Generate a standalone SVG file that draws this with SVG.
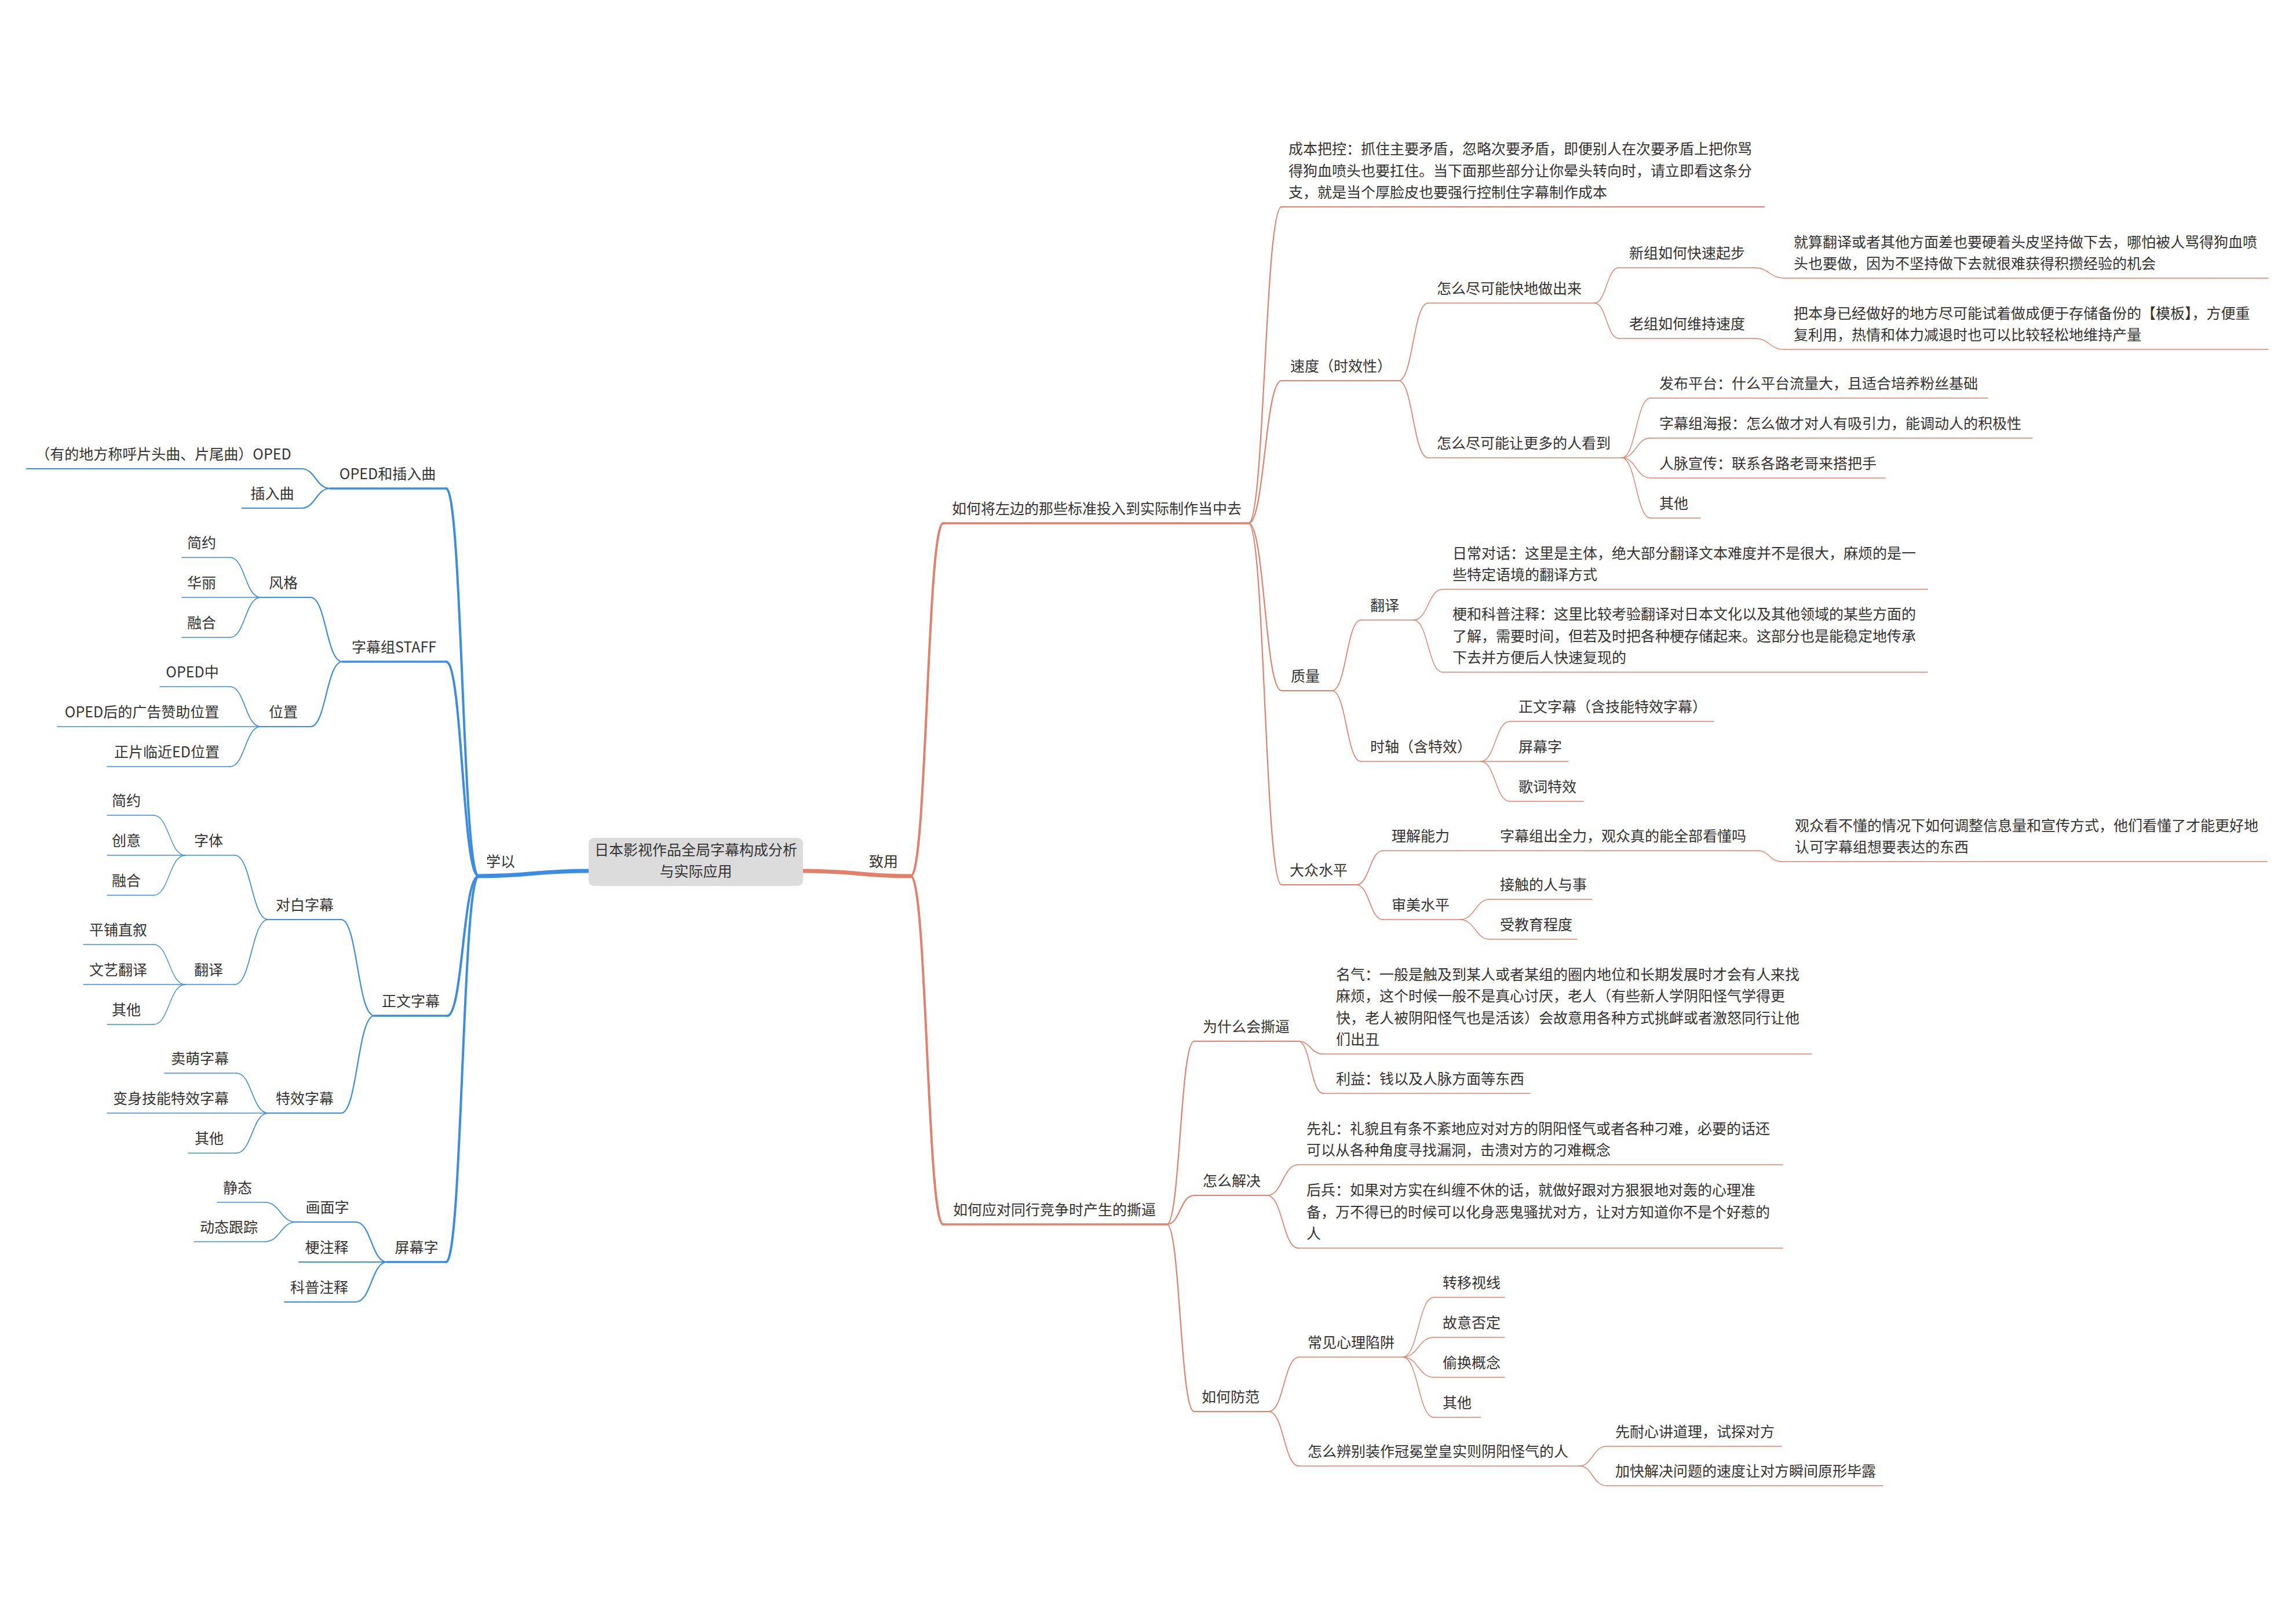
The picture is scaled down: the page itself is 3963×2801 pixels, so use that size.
<svg xmlns="http://www.w3.org/2000/svg" width="3963" height="2801" viewBox="0 0 3963 2801">
<style>
.bl{stroke:#3b8de3;fill:none;stroke-linecap:round}
.or{stroke:#e2806c;fill:none;stroke-linecap:round}
.w0{stroke-width:7}.w1{stroke-width:4}.w1u{stroke-width:3.5}.w2{stroke-width:2.2}.w3{stroke-width:1.7}.w4{stroke-width:1.4}
text{font-family:"Noto Sans CJK SC","Noto Sans",sans-serif;font-size:25px;fill:#333}
.m{text-anchor:middle}
</style>
<rect width="3963" height="2801" fill="#ffffff"/>
<g id="connectors">
<path class="bl w0" d="M1020 1503 C920 1503 920 1512 826 1512"/>
<path class="or w0" d="M1382 1503 C1480 1503 1480 1512 1572 1512"/>
<path class="bl w1" d="M826 1512 C798 1512 798 843 770 843"/>
<path class="bl w1" d="M826 1512 C798 1512 798 1142 770 1142"/>
<path class="bl w1" d="M826 1512 C799 1512 799 1753 772 1753"/>
<path class="bl w1" d="M826 1512 C798 1512 798 2178 770 2178"/>
<path class="bl w2" d="M570 843 C545 843 545 809 520 809"/>
<path class="bl w2" d="M570 843 C545 843 545 877 520 877"/>
<path class="bl w2" d="M591 1142 C563 1142 563 1031 536 1031"/>
<path class="bl w2" d="M591 1142 C563 1142 563 1254 536 1254"/>
<path class="bl w3" d="M450 1031 C423 1031 423 962 397 962"/>
<path class="bl w3" d="M450 1031 C423 1031 423 1100 397 1100"/>
<path class="bl w3" d="M450 1254 C423 1254 423 1185 397 1185"/>
<path class="bl w3" d="M450 1254 C423 1254 423 1323 397 1323"/>
<path class="bl w2" d="M646 1753 C617 1753 617 1587 589 1587"/>
<path class="bl w2" d="M646 1753 C617 1753 617 1921 589 1921"/>
<path class="bl w3" d="M463 1587 C434 1587 434 1476 405 1476"/>
<path class="bl w3" d="M463 1587 C434 1587 434 1699 405 1699"/>
<path class="bl w4" d="M320 1476 C292 1476 292 1407 265 1407"/>
<path class="bl w4" d="M320 1476 C292 1476 292 1545 265 1545"/>
<path class="bl w4" d="M320 1699 C292 1699 292 1630 265 1630"/>
<path class="bl w4" d="M320 1699 C292 1699 292 1768 265 1768"/>
<path class="bl w3" d="M463 1921 C435 1921 435 1852 408 1852"/>
<path class="bl w3" d="M463 1921 C435 1921 435 1990 408 1990"/>
<path class="bl w2" d="M668 2178 C641 2178 641 2109 614 2109"/>
<path class="bl w2" d="M668 2178 C641 2178 641 2247 614 2247"/>
<path class="bl w3" d="M511 2109 C484 2109 484 2075 457 2075"/>
<path class="bl w3" d="M511 2109 C484 2109 484 2143 457 2143"/>
<path class="or w1" d="M1572 1512 C1600 1512 1600 903 1628 903"/>
<path class="or w1" d="M1572 1512 C1600 1512 1600 2113 1628 2113"/>
<path class="or w2" d="M2155 903 C2183 903 2183 357 2212 357"/>
<path class="or w2" d="M2155 903 C2183 903 2183 657 2212 657"/>
<path class="or w2" d="M2155 903 C2183 903 2183 1192 2212 1192"/>
<path class="or w2" d="M2155 903 C2183 903 2183 1527 2212 1527"/>
<path class="or w3" d="M2414 657 C2439 657 2439 523 2465 523"/>
<path class="or w3" d="M2414 657 C2439 657 2439 790 2465 790"/>
<path class="or w4" d="M2752 523 C2773 523 2773 462 2794 462"/>
<path class="or w4" d="M2752 523 C2773 523 2773 584 2794 584"/>
<path class="or w4" d="M3028 462 C3054 462 3054 480 3080 480"/>
<path class="or w4" d="M3028 584 C3054 584 3054 603 3080 603"/>
<path class="or w4" d="M2799 790 C2824 790 2824 687 2849 687"/>
<path class="or w4" d="M2799 790 C2824 790 2824 756 2849 756"/>
<path class="or w4" d="M2799 790 C2824 790 2824 825 2849 825"/>
<path class="or w4" d="M2799 790 C2824 790 2824 894 2849 894"/>
<path class="or w3" d="M2299 1192 C2324 1192 2324 1070 2349 1070"/>
<path class="or w3" d="M2299 1192 C2324 1192 2324 1314 2349 1314"/>
<path class="or w4" d="M2440 1070 C2465 1070 2465 1017 2490 1017"/>
<path class="or w4" d="M2440 1070 C2465 1070 2465 1160 2490 1160"/>
<path class="or w4" d="M2556 1314 C2581 1314 2581 1245 2606 1245"/>
<path class="or w4" d="M2556 1314 L2606 1314"/>
<path class="or w4" d="M2556 1314 C2581 1314 2581 1383 2606 1383"/>
<path class="or w3" d="M2341 1527 C2364 1527 2364 1468 2387 1468"/>
<path class="or w3" d="M2341 1527 C2364 1527 2364 1587 2387 1587"/>
<path class="or w4" d="M2514 1468 L2572 1468"/>
<path class="or w4" d="M3034 1468 C3054 1468 3054 1487 3075 1487"/>
<path class="or w4" d="M2520 1587 C2546 1587 2546 1552 2572 1552"/>
<path class="or w4" d="M2520 1587 C2546 1587 2546 1621 2572 1621"/>
<path class="or w2" d="M2014 2113 C2037 2113 2037 1797 2061 1797"/>
<path class="or w2" d="M2014 2113 C2037 2113 2037 2063 2061 2063"/>
<path class="or w2" d="M2014 2113 C2037 2113 2037 2436 2061 2436"/>
<path class="or w3" d="M2241 1797 C2262 1797 2262 1819 2284 1819"/>
<path class="or w3" d="M2241 1797 C2262 1797 2262 1887 2284 1887"/>
<path class="or w3" d="M2187 2063 C2214 2063 2214 2010 2241 2010"/>
<path class="or w3" d="M2187 2063 C2214 2063 2214 2154 2241 2154"/>
<path class="or w3" d="M2190 2436 C2216 2436 2216 2342 2242 2342"/>
<path class="or w3" d="M2190 2436 C2216 2436 2216 2530 2242 2530"/>
<path class="or w4" d="M2421 2342 C2448 2342 2448 2239 2475 2239"/>
<path class="or w4" d="M2421 2342 C2448 2342 2448 2308 2475 2308"/>
<path class="or w4" d="M2421 2342 C2448 2342 2448 2377 2475 2377"/>
<path class="or w4" d="M2421 2342 C2448 2342 2448 2446 2475 2446"/>
<path class="or w4" d="M2726 2530 C2749 2530 2749 2496 2773 2496"/>
<path class="or w4" d="M2726 2530 C2749 2530 2749 2564 2773 2564"/>
</g>
<g id="root">
<rect x="1016" y="1446" width="370" height="83" rx="9" fill="#dcdcdc"/>
<text class="m" x="1201" y="1476">日本影视作品全局字幕构成分析</text>
<text class="m" x="1201" y="1513">与实际应用</text>
</g>
<g id="n-xueyi"><text class="m" x="864" y="1496">学以</text></g>
<g id="n-zhiyong"><text class="m" x="1525" y="1496">致用</text></g>
<!-- LEFT -->
<g id="n-A"><path class="bl w1u" d="M570 843H770"/><text class="m" x="669" y="827">OPED和插入曲</text></g>
<g id="n-A1"><path class="bl w2" d="M46 809H520"/><text class="m" x="282" y="793">（有的地方称呼片头曲、片尾曲）OPED</text></g>
<g id="n-A2"><path class="bl w2" d="M418 877H520"/><text class="m" x="470" y="861">插入曲</text></g>
<g id="n-B"><path class="bl w1u" d="M591 1142H770"/><text class="m" x="680" y="1126">字幕组STAFF</text></g>
<g id="n-B1"><path class="bl w2" d="M450 1031H536"/><text class="m" x="489" y="1015">风格</text></g>
<g id="n-B1a"><path class="bl w3" d="M314 962H397"/><text class="m" x="348" y="946">简约</text></g>
<g id="n-B1b"><path class="bl w3" d="M314 1031H450"/><text class="m" x="348" y="1015">华丽</text></g>
<g id="n-B1c"><path class="bl w3" d="M314 1100H397"/><text class="m" x="348" y="1084">融合</text></g>
<g id="n-B2"><path class="bl w2" d="M450 1254H536"/><text class="m" x="489" y="1238">位置</text></g>
<g id="n-B2a"><path class="bl w3" d="M276 1185H397"/><text class="m" x="332" y="1169">OPED中</text></g>
<g id="n-B2b"><path class="bl w3" d="M99 1254H450"/><text class="m" x="245" y="1238">OPED后的广告赞助位置</text></g>
<g id="n-B2c"><path class="bl w3" d="M185 1323H397"/><text class="m" x="288" y="1307">正片临近ED位置</text></g>
<g id="n-C"><path class="bl w1u" d="M646 1753H772"/><text class="m" x="709" y="1737">正文字幕</text></g>
<g id="n-C1"><path class="bl w2" d="M463 1587H589"/><text class="m" x="526" y="1571">对白字幕</text></g>
<g id="n-C1a"><path class="bl w3" d="M320 1476H405"/><text class="m" x="360" y="1460">字体</text></g>
<g id="n-C1a1"><path class="bl w4" d="M185 1407H265"/><text class="m" x="218" y="1391">简约</text></g>
<g id="n-C1a2"><path class="bl w4" d="M185 1476H320"/><text class="m" x="218" y="1460">创意</text></g>
<g id="n-C1a3"><path class="bl w4" d="M185 1545H265"/><text class="m" x="218" y="1529">融合</text></g>
<g id="n-C1b"><path class="bl w3" d="M320 1699H405"/><text class="m" x="360" y="1683">翻译</text></g>
<g id="n-C1b1"><path class="bl w4" d="M144 1630H265"/><text class="m" x="204" y="1614">平铺直叙</text></g>
<g id="n-C1b2"><path class="bl w4" d="M144 1699H320"/><text class="m" x="204" y="1683">文艺翻译</text></g>
<g id="n-C1b3"><path class="bl w4" d="M185 1768H265"/><text class="m" x="218" y="1752">其他</text></g>
<g id="n-C2"><path class="bl w2" d="M463 1921H589"/><text class="m" x="526" y="1905">特效字幕</text></g>
<g id="n-C2a"><path class="bl w3" d="M284 1852H408"/><text class="m" x="345" y="1836">卖萌字幕</text></g>
<g id="n-C2b"><path class="bl w3" d="M185 1921H463"/><text class="m" x="295" y="1905">变身技能特效字幕</text></g>
<g id="n-C2c"><path class="bl w3" d="M325 1990H408"/><text class="m" x="361" y="1974">其他</text></g>
<g id="n-D"><path class="bl w1u" d="M668 2178H770"/><text class="m" x="719" y="2162">屏幕字</text></g>
<g id="n-D1"><path class="bl w2" d="M511 2109H614"/><text class="m" x="565" y="2093">画面字</text></g>
<g id="n-D1a"><path class="bl w3" d="M375 2075H457"/><text class="m" x="410" y="2059">静态</text></g>
<g id="n-D1b"><path class="bl w3" d="M335 2143H457"/><text class="m" x="395" y="2127">动态跟踪</text></g>
<g id="n-D2"><path class="bl w2" d="M516 2178H668"/><text class="m" x="564" y="2162">梗注释</text></g>
<g id="n-D3"><path class="bl w2" d="M491 2247H614"/><text class="m" x="551" y="2231">科普注释</text></g>
<!-- RIGHT -->
<g id="n-E"><path class="or w1u" d="M1628 903H2155"/><text x="1643" y="887">如何将左边的那些标准投入到实际制作当中去</text></g>
<g id="n-E1"><path class="or w2" d="M2212 357H3045"/><text x="2224" y="266">成本把控：抓住主要矛盾，忽略次要矛盾，即便别人在次要矛盾上把你骂</text><text x="2224" y="303.5">得狗血喷头也要扛住。当下面那些部分让你晕头转向时，请立即看这条分</text><text x="2224" y="341">支，就是当个厚脸皮也要强行控制住字幕制作成本</text></g>
<g id="n-E2"><path class="or w2" d="M2212 657H2414"/><text x="2227" y="641">速度（时效性）</text></g>
<g id="n-E2a"><path class="or w3" d="M2465 523H2752"/><text x="2480" y="507">怎么尽可能快地做出来</text></g>
<g id="n-E2a1"><path class="or w4" d="M2794 462H3028"/><text x="2812" y="446">新组如何快速起步</text></g>
<g id="n-E2a1a"><path class="or w4" d="M3080 480H3915"/><text x="3096" y="426.5">就算翻译或者其他方面差也要硬着头皮坚持做下去，哪怕被人骂得狗血喷</text><text x="3096" y="464">头也要做，因为不坚持做下去就很难获得积攒经验的机会</text></g>
<g id="n-E2a2"><path class="or w4" d="M2794 584H3028"/><text x="2812" y="568">老组如何维持速度</text></g>
<g id="n-E2a2a"><path class="or w4" d="M3080 603H3915"/><text x="3096" y="549.5">把本身已经做好的地方尽可能试着做成便于存储备份的【模板】，方便重</text><text x="3096" y="587">复利用，热情和体力减退时也可以比较轻松地维持产量</text></g>
<g id="n-E2b"><path class="or w3" d="M2465 790H2799"/><text x="2480" y="774">怎么尽可能让更多的人看到</text></g>
<g id="n-E2b1"><path class="or w4" d="M2849 687H3431"/><text x="2864" y="671">发布平台：什么平台流量大，且适合培养粉丝基础</text></g>
<g id="n-E2b2"><path class="or w4" d="M2849 756H3508"/><text x="2864" y="740">字幕组海报：怎么做才对人有吸引力，能调动人的积极性</text></g>
<g id="n-E2b3"><path class="or w4" d="M2849 825H3254"/><text x="2864" y="809">人脉宣传：联系各路老哥来搭把手</text></g>
<g id="n-E2b4"><path class="or w4" d="M2849 894H2935"/><text x="2864" y="878">其他</text></g>
<g id="n-E3"><path class="or w2" d="M2212 1192H2299"/><text x="2228" y="1176">质量</text></g>
<g id="n-E3a"><path class="or w3" d="M2349 1070H2440"/><text x="2365" y="1054">翻译</text></g>
<g id="n-E3a1"><path class="or w4" d="M2490 1017H3327"/><text x="2507" y="963.5">日常对话：这里是主体，绝大部分翻译文本难度并不是很大，麻烦的是一</text><text x="2507" y="1001">些特定语境的翻译方式</text></g>
<g id="n-E3a2"><path class="or w4" d="M2490 1160H3327"/><text x="2507" y="1069">梗和科普注释：这里比较考验翻译对日本文化以及其他领域的某些方面的</text><text x="2507" y="1106.5">了解，需要时间，但若及时把各种梗存储起来。这部分也是能稳定地传承</text><text x="2507" y="1144">下去并方便后人快速复现的</text></g>
<g id="n-E3b"><path class="or w3" d="M2349 1314H2556"/><text x="2365" y="1298">时轴（含特效）</text></g>
<g id="n-E3b1"><path class="or w4" d="M2606 1245H2958"/><text x="2621" y="1229">正文字幕（含技能特效字幕）</text></g>
<g id="n-E3b2"><path class="or w4" d="M2606 1314H2707"/><text x="2621" y="1298">屏幕字</text></g>
<g id="n-E3b3"><path class="or w4" d="M2606 1383H2733"/><text x="2621" y="1367">歌词特效</text></g>
<g id="n-E4"><path class="or w2" d="M2212 1527H2341"/><text x="2226" y="1511">大众水平</text></g>
<g id="n-E4a"><path class="or w3" d="M2387 1468H2514"/><text x="2402" y="1452">理解能力</text></g>
<g id="n-E4a1"><path class="or w4" d="M2572 1468H3034"/><text x="2589" y="1452">字幕组出全力，观众真的能全部看懂吗</text></g>
<g id="n-E4a1a"><path class="or w4" d="M3075 1487H3913"/><text x="3098" y="1433.5">观众看不懂的情况下如何调整信息量和宣传方式，他们看懂了才能更好地</text><text x="3098" y="1471">认可字幕组想要表达的东西</text></g>
<g id="n-E4b"><path class="or w3" d="M2387 1587H2520"/><text x="2402" y="1571">审美水平</text></g>
<g id="n-E4b1"><path class="or w4" d="M2572 1552H2748"/><text x="2589" y="1536">接触的人与事</text></g>
<g id="n-E4b2"><path class="or w4" d="M2572 1621H2722"/><text x="2589" y="1605">受教育程度</text></g>
<g id="n-F"><path class="or w1u" d="M1628 2113H2014"/><text x="1645" y="2097">如何应对同行竞争时产生的撕逼</text></g>
<g id="n-F1"><path class="or w2" d="M2061 1797H2241"/><text x="2076" y="1781">为什么会撕逼</text></g>
<g id="n-F1a"><path class="or w3" d="M2284 1819H3127"/><text x="2306" y="1690.5">名气：一般是触及到某人或者某组的圈内地位和长期发展时才会有人来找</text><text x="2306" y="1728">麻烦，这个时候一般不是真心讨厌，老人（有些新人学阴阳怪气学得更</text><text x="2306" y="1765.5">快，老人被阴阳怪气也是活该）会故意用各种方式挑衅或者激怒同行让他</text><text x="2306" y="1803">们出丑</text></g>
<g id="n-F1b"><path class="or w3" d="M2284 1887H2641"/><text x="2306" y="1871">利益：钱以及人脉方面等东西</text></g>
<g id="n-F2"><path class="or w2" d="M2061 2063H2187"/><text x="2076" y="2047">怎么解决</text></g>
<g id="n-F2a"><path class="or w3" d="M2241 2010H3077"/><text x="2255" y="1956.5">先礼：礼貌且有条不紊地应对对方的阴阳怪气或者各种刁难，必要的话还</text><text x="2255" y="1994">可以从各种角度寻找漏洞，击溃对方的刁难概念</text></g>
<g id="n-F2b"><path class="or w3" d="M2241 2154H3077"/><text x="2255" y="2063">后兵：如果对方实在纠缠不休的话，就做好跟对方狠狠地对轰的心理准</text><text x="2255" y="2100.5">备，万不得已的时候可以化身恶鬼骚扰对方，让对方知道你不是个好惹的</text><text x="2255" y="2138">人</text></g>
<g id="n-F3"><path class="or w2" d="M2061 2436H2190"/><text x="2074" y="2420">如何防范</text></g>
<g id="n-F3a"><path class="or w3" d="M2242 2342H2421"/><text x="2257" y="2326">常见心理陷阱</text></g>
<g id="n-F3a1"><path class="or w4" d="M2475 2239H2597"/><text x="2490" y="2223">转移视线</text></g>
<g id="n-F3a2"><path class="or w4" d="M2475 2308H2597"/><text x="2490" y="2292">故意否定</text></g>
<g id="n-F3a3"><path class="or w4" d="M2475 2377H2597"/><text x="2490" y="2361">偷换概念</text></g>
<g id="n-F3a4"><path class="or w4" d="M2475 2446H2556"/><text x="2490" y="2430">其他</text></g>
<g id="n-F3b"><path class="or w3" d="M2242 2530H2726"/><text x="2257" y="2514">怎么辨别装作冠冕堂皇实则阴阳怪气的人</text></g>
<g id="n-F3b1"><path class="or w4" d="M2773 2496H3075"/><text x="2788" y="2480">先耐心讲道理，试探对方</text></g>
<g id="n-F3b2"><path class="or w4" d="M2773 2564H3250"/><text x="2788" y="2548">加快解决问题的速度让对方瞬间原形毕露</text></g>
</svg>
